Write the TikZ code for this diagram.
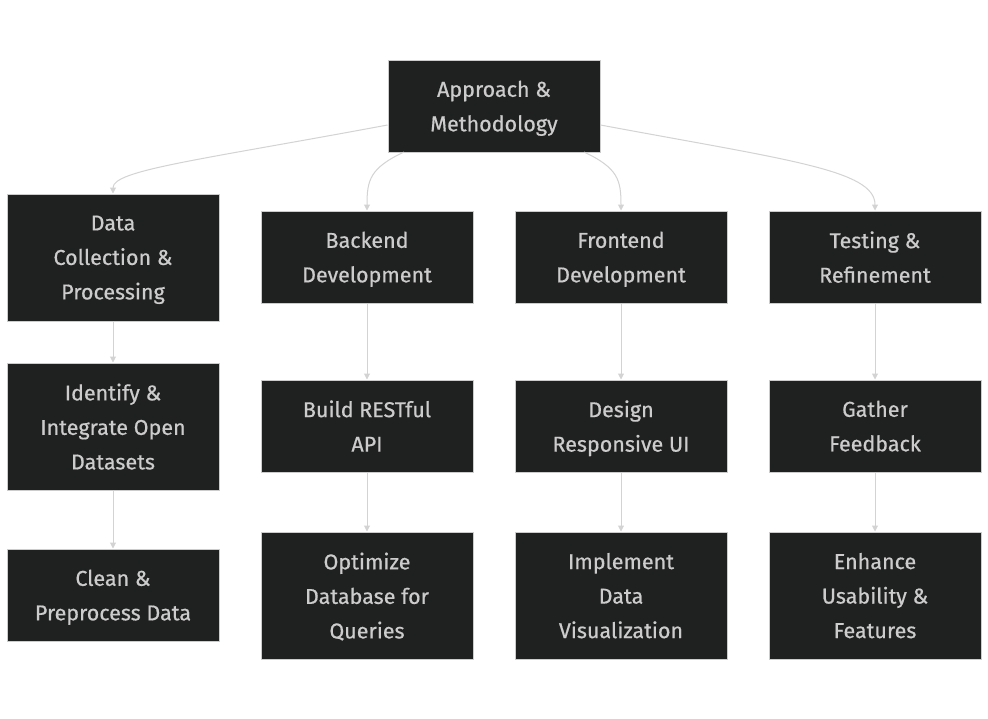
\documentclass[tikz,border=0pt]{standalone}
\usepackage{fontspec}
\setmainfont{Fira Sans}[FakeBold=0.6]
\usetikzlibrary{arrows.meta}
\definecolor{boxfill}{HTML}{1F2020}
\definecolor{boxline}{HTML}{CCCCCC}
\definecolor{txt}{HTML}{CCCCCC}
\definecolor{edge}{HTML}{D3D3D3}
\tikzset{
  box/.style={draw=boxline, line width=1pt, fill=boxfill, text=txt, minimum width=212pt, align=center, inner sep=0pt,
    text depth=0pt, font=\fontsize{21.5}{34.5}\selectfont},
  box3/.style={box, minimum height=127pt},
  box2/.style={box, minimum height=92pt},
  conn/.style={draw=edge, line width=1pt, -{Triangle[length=6pt,width=6pt]}},
}
\begin{document}
\begin{tikzpicture}[x=1pt,y=-1pt]
\useasboundingbox[fill=white] (0,0) rectangle (988,718);
\node[box2] (top) at (494,106) {Approach \&\\Methodology};
\node[box3] (data) at (113,257.5) {Data\\Collection \&\\Processing};
\node[box2] (back) at (367,257) {Backend\\Development};
\node[box2] (front) at (621,257) {Frontend\\Development};
\node[box2] (test) at (875,257) {Testing \&\\Refinement};
\node[box3] (ident) at (113,426.5) {Identify \&\\Integrate Open\\Datasets};
\node[box2] (build) at (367,426) {Build RESTful\\API};
\node[box2] (design) at (621,426) {Design\\Responsive UI};
\node[box2] (gather) at (875,426) {Gather\\Feedback};
\node[box2] (clean) at (113,595) {Clean \&\\Preprocess Data};
\node[box3] (opt) at (367,595.5) {Optimize\\Database for\\Queries};
\node[box3] (impl) at (621,595.5) {Implement\\Data\\Visualization};
\node[box3] (enh) at (875,595.5) {Enhance\\Usability \&\\Features};
\draw[conn] (top.west |- 0,125) .. controls (200,160) and (113,170) .. (data.north);
\draw[conn] (404,152) .. controls (370,168) and (367,180) .. (back.north);
\draw[conn] (584,152) .. controls (618,168) and (621,180) .. (front.north);
\draw[conn] (top.east |- 0,125) .. controls (788,160) and (875,170) .. (test.north);
\draw[conn] (data) -- (ident);
\draw[conn] (ident) -- (clean);
\draw[conn] (back) -- (build);
\draw[conn] (build) -- (opt);
\draw[conn] (front) -- (design);
\draw[conn] (design) -- (impl);
\draw[conn] (test) -- (gather);
\draw[conn] (gather) -- (enh);
\end{tikzpicture}
\end{document}
